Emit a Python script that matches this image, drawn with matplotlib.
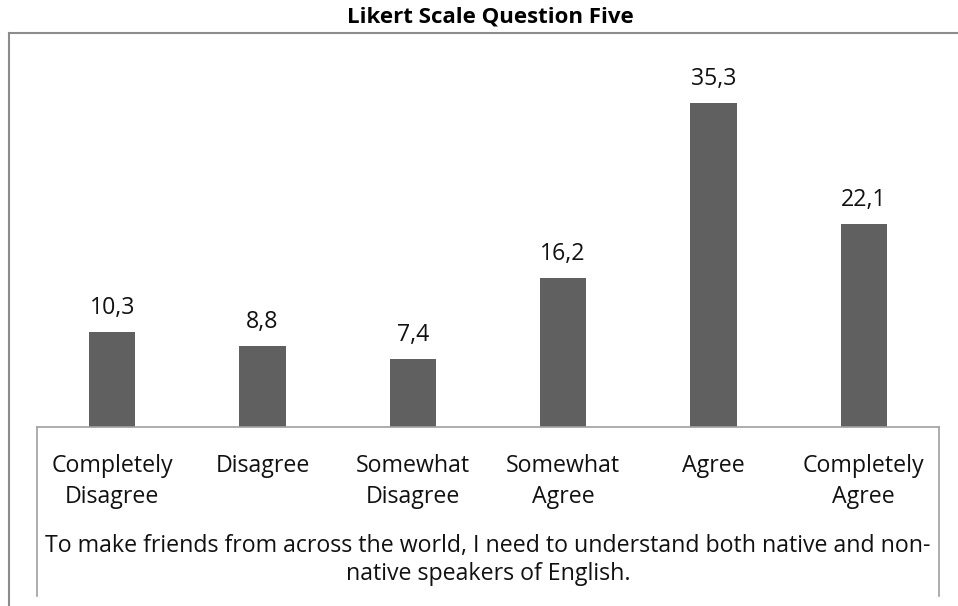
import matplotlib
matplotlib.use("Agg")
import matplotlib.pyplot as plt
from matplotlib.lines import Line2D

categories = ["Completely\nDisagree", "Disagree", "Somewhat\nDisagree",
              "Somewhat\nAgree", "Agree", "Completely\nAgree"]
values = [10.3, 8.8, 7.4, 16.2, 35.3, 22.1]
value_labels = ["10,3", "8,8", "7,4", "16,2", "35,3", "22,1"]
title = "Likert Scale Question Five"
caption = ("To make friends from across the world, I need to understand both native and non-\n"
           "native speakers of English.")

plt.rcParams['font.family'] = ['Open Sans', 'DejaVu Sans']

W, H = 958, 606
fig = plt.figure(figsize=(W / 100, H / 100), dpi=100)

def fx(px):
    return px / W

def fy(py):
    return 1 - py / H

ax_left, ax_right, ax_bottom, ax_top = 37, 939, 427, 60
ax = fig.add_axes([fx(ax_left), fy(ax_bottom), fx(ax_right - ax_left), (ax_bottom - ax_top) / H])
x = list(range(len(categories)))
ax.bar(x, values, width=0.31, color="#606060")
ax.set_xlim(-0.5, len(categories) - 0.5)
ax.set_ylim(0, 40)
for s in ax.spines.values():
    s.set_visible(False)
ax.set_yticks([])
ax.set_xticks(x)
ax.set_xticklabels(categories, fontsize=16.7, color="#111111", linespacing=1.38)
ax.tick_params(axis='x', length=0, pad=19.5)

for xi, v, lab in zip(x, values, value_labels):
    ax.annotate(lab, (xi, v), xytext=(0, 9), textcoords='offset points',
                ha='center', va='bottom', fontsize=16.7, color="#111111")

line_col = "#8c8c8c"
# outer frame
fig.add_artist(Line2D([fx(8.5), fx(8.5)], [fy(32.5), 0], color=line_col, lw=1.5))
fig.add_artist(Line2D([fx(8.5), 1], [fy(32.5), fy(32.5)], color=line_col, lw=1.5))
# axis box
fig.add_artist(Line2D([fx(ax_left), fx(ax_right)], [fy(ax_bottom), fy(ax_bottom)], color="#a0a0a0", lw=1.2))
fig.add_artist(Line2D([fx(ax_left), fx(ax_left)], [fy(ax_bottom), fy(596)], color="#a0a0a0", lw=1.2))
fig.add_artist(Line2D([fx(ax_right), fx(ax_right)], [fy(ax_bottom), fy(596)], color="#a0a0a0", lw=1.2))

fig.text(fx(490), fy(17.5), title, ha='center', va='center', fontsize=16, fontweight='bold', color="#000000")
fig.text(fx((ax_left + ax_right) / 2), fy(560), caption, ha='center', va='center', fontsize=16.7,
         color="#111111", linespacing=1.25)

fig.savefig("out.png", dpi=100)
